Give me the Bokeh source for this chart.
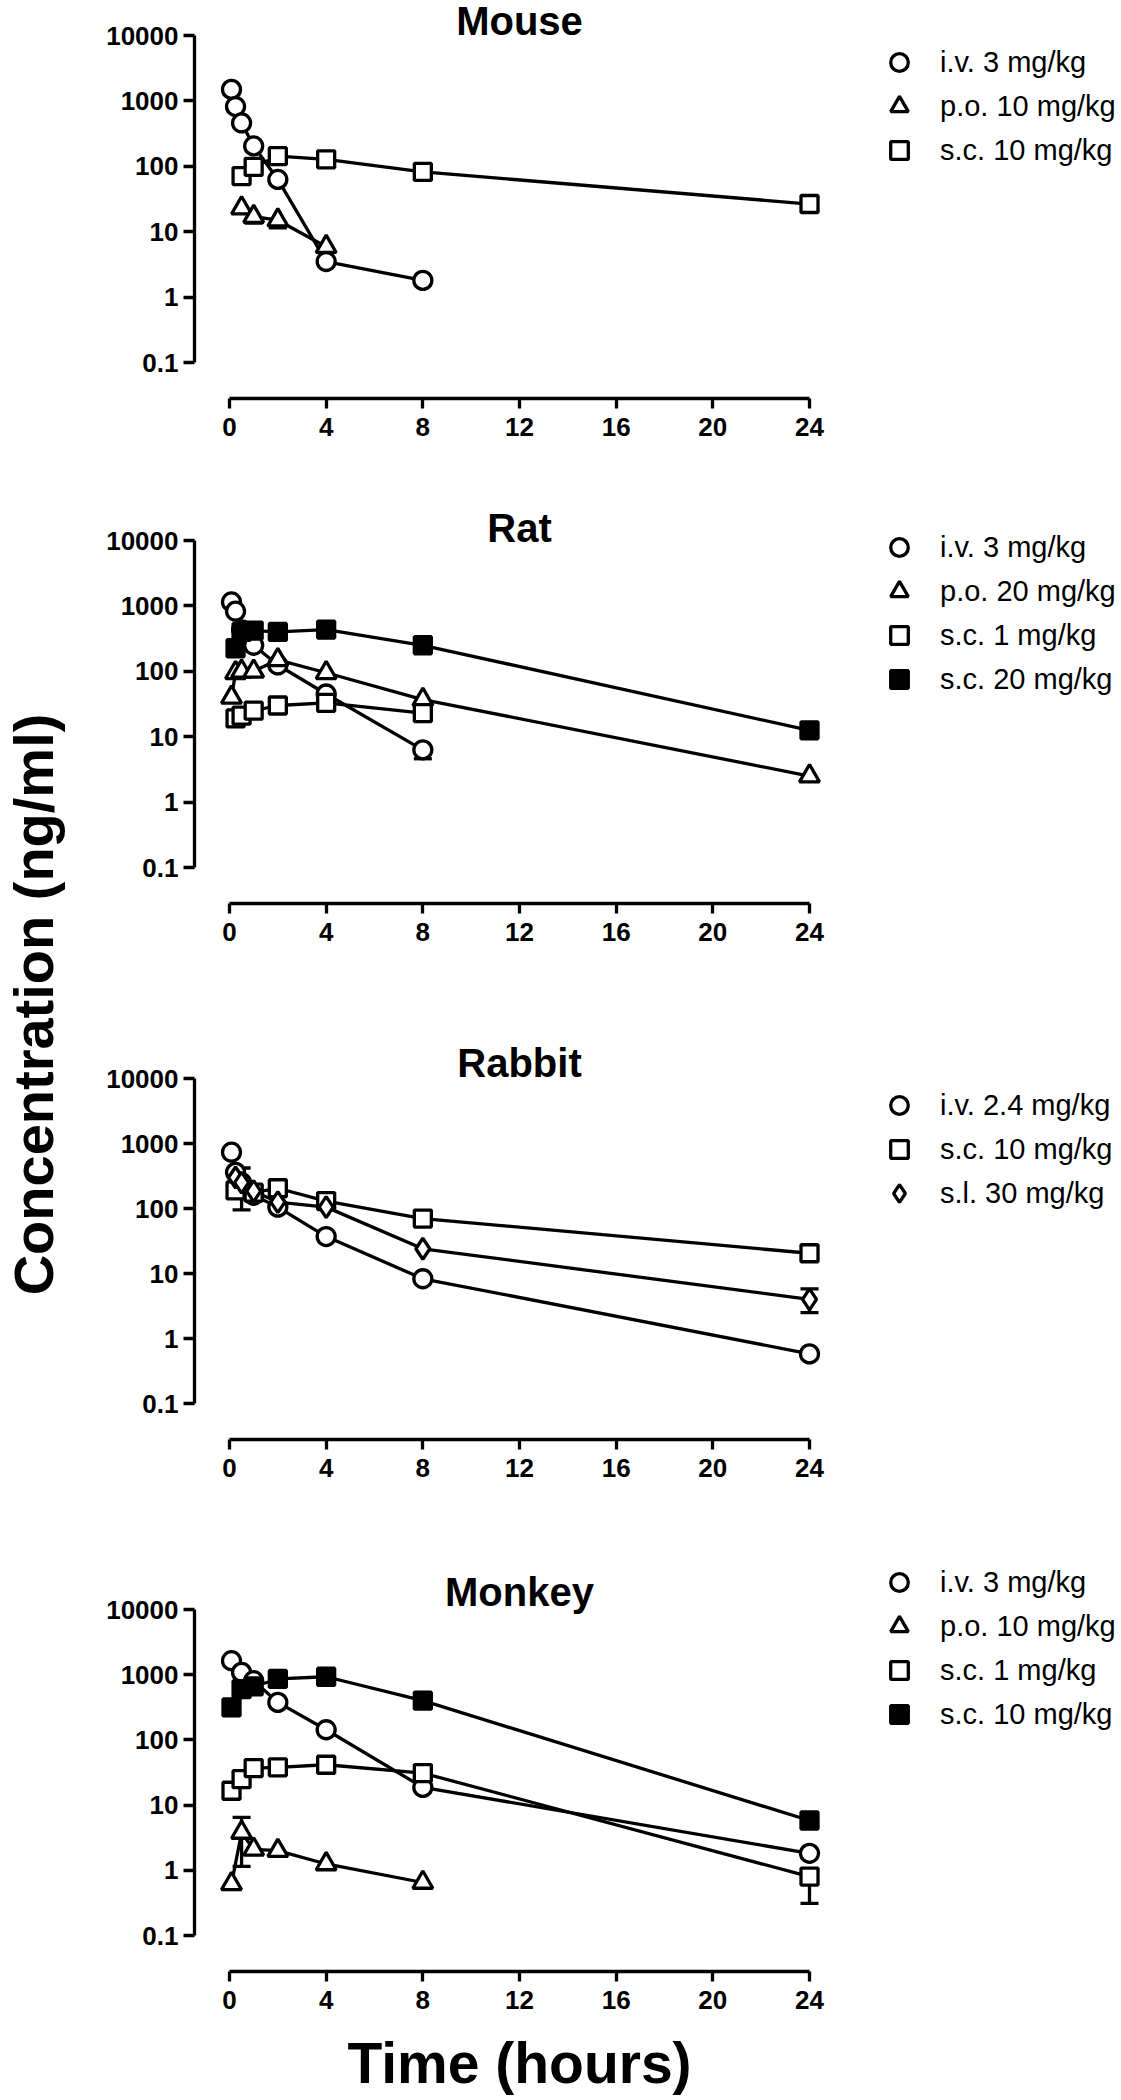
import math
from bokeh.plotting import figure
from bokeh.layouts import column, row
from bokeh.models import (Range1d, FixedTicker, BasicTickFormatter, Label, Legend,
                          LegendItem, Whisker, TeeHead, ColumnDataSource)
from bokeh.embed import file_html
from bokeh.resources import INLINE

# ---------------- DATA ----------------
x_ticks = [0, 4, 8, 12, 16, 20, 24]
y_ticks = [0.1, 1, 10, 100, 1000, 10000]
y_label = "Concentration (ng/ml)"
x_label = "Time (hours)"

# Mouse
mouse_iv_time = [0.083, 0.25, 0.5, 1, 2, 4, 8]
mouse_iv_conc = [1500, 820, 460, 205, 63, 3.5, 1.8]
mouse_po_time = [0.5, 1, 2, 4]
mouse_po_conc = [23, 17, 15, 5.9]
mouse_sc_time = [0.5, 1, 2, 4, 8, 24]
mouse_sc_conc = [71, 98, 143, 128, 82, 26.5]
mouse_labels = ["i.v. 3 mg/kg", "p.o. 10 mg/kg", "s.c. 10 mg/kg"]
mouse_err_time = [1, 2]
mouse_err_low = [13.5, 11.5]
mouse_err_high = [17, 15]
mouse_err_kind = ["low", "low"]

# Rat
rat_iv_time = [0.083, 0.25, 0.5, 1, 2, 4, 8]
rat_iv_conc = [1150, 830, 430, 250, 125, 45, 6.3]
rat_po_time = [0.083, 0.25, 0.5, 1, 2, 4, 8, 24]
rat_po_conc = [40, 95, 100, 100, 150, 95, 37, 2.5]
rat_sc1_time = [0.25, 0.5, 1, 2, 4, 8]
rat_sc1_conc = [19, 21, 25, 30, 33, 23]
rat_sc20_time = [0.25, 0.5, 1, 2, 4, 8, 24]
rat_sc20_conc = [225, 400, 420, 400, 435, 250, 12.5]
rat_labels = ["i.v. 3 mg/kg", "p.o. 20 mg/kg", "s.c. 1 mg/kg", "s.c. 20 mg/kg"]
rat_err_time = [8, 24]
rat_err_low = [4.6, 2.2]
rat_err_high = [6.3, 2.5]
rat_err_kind = ["low", "low"]

# Rabbit
rabbit_iv_time = [0.083, 0.25, 0.5, 1, 2, 4, 8, 24]
rabbit_iv_conc = [735, 360, 250, 160, 105, 37, 8.3, 0.58]
rabbit_sc_time = [0.25, 1, 2, 4, 8, 24]
rabbit_sc_conc = [190, 175, 205, 130, 70, 20.5]
rabbit_sl_time = [0.25, 0.5, 1, 2, 4, 8, 24]
rabbit_sl_conc = [300, 250, 185, 125, 105, 24, 4.0]
rabbit_labels = ["i.v. 2.4 mg/kg", "s.c. 10 mg/kg", "s.l. 30 mg/kg"]
rabbit_err_time = [0.5, 24]
rabbit_err_low = [95, 2.5]
rabbit_err_high = [420, 5.8]
rabbit_err_kind = ["both", "both"]

# Monkey
monkey_iv_time = [0.083, 0.5, 1, 2, 4, 8, 24]
monkey_iv_conc = [1640, 1085, 810, 376, 143, 18.7, 1.82]
monkey_po_time = [0.083, 0.5, 1, 2, 4, 8]
monkey_po_conc = [0.62, 3.8, 2.1, 2.0, 1.25, 0.65]
monkey_sc1_time = [0.083, 0.5, 1, 2, 4, 8, 24]
monkey_sc1_conc = [16.6, 25, 37, 38, 41.6, 31, 0.8]
monkey_sc10_time = [0.083, 0.5, 1, 2, 4, 8, 24]
monkey_sc10_conc = [315, 600, 660, 860, 930, 400, 5.8]
monkey_labels = ["i.v. 3 mg/kg", "p.o. 10 mg/kg", "s.c. 1 mg/kg", "s.c. 10 mg/kg"]
monkey_err_time = [0.5, 0.083, 8, 24]
monkey_err_low = [1.15, 0.52, 0.54, 0.31]
monkey_err_high = [6.5, 0.62, 0.65, 0.8]
monkey_err_kind = ["both", "low", "low", "low"]

# ---------------- STYLE / LAYOUT ----------------
FONT = "Liberation Sans"
LW = 3.3
STYLES = {
    "iv": dict(marker="circle", size=18, fill_color="white"),
    "po": dict(marker="triangle", size=20, fill_color="white"),
    "sc_open": dict(marker="square", size=17, fill_color="white"),
    "sc_fill": dict(marker="square", size=17, fill_color="black"),
    "sl": dict(marker="diamond", size=21, fill_color="white"),
}
LABEL_W = 80
FIG_W = 1121 - LABEL_W
AXIS_X = 194          # page x of y-axis line
X0_PX, X24_PX = 229, 809
MBL = AXIS_X - LABEL_W
PX_PER_H = (X24_PX - X0_PX) / 24.0
FRAME_W = FIG_W - MBL
X_START = -(X0_PX - AXIS_X) / PX_PER_H
X_END = X_START + FRAME_W / PX_PER_H
XLAB_H = 70

# geometry per panel: fig_top, fig_h, tick_1e4, tick_0.1, frame_bottom, title_baseline, legend_first_row
GEOM = {
    "Mouse": (0, 480, 35, 362, 398, 20, 70),
    "Rat": (480, 530, 540, 867, 903, 527, 559),
    "Rabbit": (1010, 530, 1078, 1403, 1439, 1062, 1113),
    "Monkey": (1540, 2100 - XLAB_H - 1540, 1609, 1935, 1971, 1591, 1594),
}
XLABEL_Y_FROM_BOTTOM = 38


def make_panel(name, series, err):
    fig_top, fig_h, t4, t01, fb, title_base, leg_first = GEOM[name]
    dec = (t01 - t4) / 5.0
    lo = -1 - (fb - t01) / dec
    hi = 4 + (t4 - fig_top) / dec
    p = figure(width=FIG_W, height=fig_h, y_axis_type="log", title=None,
               x_range=Range1d(X_START, X_END), y_range=Range1d(10 ** lo, 10 ** hi),
               output_backend="svg", toolbar_location=None,
               min_border_left=MBL, min_border_right=0, min_border_top=0,
               min_border_bottom=fig_top + fig_h - fb)
    p.outline_line_color = None
    p.xgrid.visible = False
    p.ygrid.visible = False
    p.background_fill_color = "white"
    p.border_fill_color = "white"

    xa, ya = p.xaxis[0], p.yaxis[0]
    xa.bounds = (0, 24)
    ya.bounds = (0.1, 10000)
    xa.ticker = FixedTicker(ticks=x_ticks)
    ya.ticker = FixedTicker(ticks=y_ticks)
    ya.formatter = BasicTickFormatter(use_scientific=False)
    for ax in (xa, ya):
        ax.axis_line_width = LW
        ax.axis_line_color = "black"
        ax.major_tick_line_width = LW
        ax.major_tick_line_color = "black"
        ax.major_tick_in = 0
        ax.minor_tick_line_color = None
        ax.major_label_text_font = FONT
        ax.major_label_text_font_style = "bold"
        ax.major_label_text_font_size = "26px"
        ax.major_label_text_color = "black"
    ya.major_tick_out = 11
    xa.major_tick_out = 10
    ya.major_label_standoff = 5
    xa.major_label_standoff = 9

    # error bars (under lines/markers)
    et, elo, ehi, ekind = err
    for kind in ("both", "low"):
        idx = [i for i, k in enumerate(ekind) if k == kind]
        if not idx:
            continue
        src = ColumnDataSource(dict(base=[et[i] for i in idx],
                                    lower=[elo[i] for i in idx],
                                    upper=[ehi[i] for i in idx]))
        w = Whisker(source=src, base="base", lower="lower", upper="upper",
                    dimension="height", line_width=LW, line_color="black",
                    lower_head=TeeHead(size=18, line_width=LW, line_color="black"),
                    upper_head=TeeHead(size=18, line_width=LW, line_color="black") if kind == "both" else None,
                    level="underlay")
        p.add_layout(w)

    for (t, c, style, label) in series:
        p.line(t, c, line_color="black", line_width=LW)
    items = []
    for (t, c, style, label) in series:
        st = STYLES[style]
        r = p.scatter(t, c, marker=st["marker"], size=st["size"],
                      fill_color=st["fill_color"], line_color="black", line_width=LW)
        items.append(LegendItem(label=label, renderers=[r]))

    n = len(items)
    leg_h = 40 * n + 4
    leg_top = leg_first - 22
    vy = fb - (leg_top + leg_h)
    vx = (899 - 22) - AXIS_X
    legend = Legend(items=items, location=(vx, vy), orientation="vertical",
                    glyph_width=44, glyph_height=44, spacing=-4, padding=0, margin=0,
                    label_standoff=19, label_text_font=FONT, label_text_font_size="29px",
                    label_text_color="black", border_line_color=None,
                    background_fill_alpha=0)
    p.add_layout(legend)

    p.add_layout(Label(x=12, y=fb - title_base, x_units="data", y_units="screen",
                       text=name, text_align="center", text_baseline="alphabetic",
                       text_font=FONT, text_font_style="bold", text_font_size="40px",
                       text_color="black"))
    return p


p_mouse = make_panel("Mouse", [
    (mouse_iv_time, mouse_iv_conc, "iv", mouse_labels[0]),
    (mouse_po_time, mouse_po_conc, "po", mouse_labels[1]),
    (mouse_sc_time, mouse_sc_conc, "sc_open", mouse_labels[2]),
], (mouse_err_time, mouse_err_low, mouse_err_high, mouse_err_kind))

p_rat = make_panel("Rat", [
    (rat_iv_time, rat_iv_conc, "iv", rat_labels[0]),
    (rat_po_time, rat_po_conc, "po", rat_labels[1]),
    (rat_sc1_time, rat_sc1_conc, "sc_open", rat_labels[2]),
    (rat_sc20_time, rat_sc20_conc, "sc_fill", rat_labels[3]),
], (rat_err_time, rat_err_low, rat_err_high, rat_err_kind))

p_rabbit = make_panel("Rabbit", [
    (rabbit_iv_time, rabbit_iv_conc, "iv", rabbit_labels[0]),
    (rabbit_sc_time, rabbit_sc_conc, "sc_open", rabbit_labels[1]),
    (rabbit_sl_time, rabbit_sl_conc, "sl", rabbit_labels[2]),
], (rabbit_err_time, rabbit_err_low, rabbit_err_high, rabbit_err_kind))

p_monkey = make_panel("Monkey", [
    (monkey_iv_time, monkey_iv_conc, "iv", monkey_labels[0]),
    (monkey_po_time, monkey_po_conc, "po", monkey_labels[1]),
    (monkey_sc1_time, monkey_sc1_conc, "sc_open", monkey_labels[2]),
    (monkey_sc10_time, monkey_sc10_conc, "sc_fill", monkey_labels[3]),
], (monkey_err_time, monkey_err_low, monkey_err_high, monkey_err_kind))


def text_strip(w, h, xr):
    f = figure(width=w, height=h, title=None, x_range=xr, y_range=Range1d(0, h),
               output_backend="svg", toolbar_location=None,
               x_axis_location=None, y_axis_location=None, min_border=0)
    f.xgrid.visible = False
    f.ygrid.visible = False
    f.outline_line_color = None
    return f


# y-axis label column (left)
lab = text_strip(LABEL_W, 2100, Range1d(0, LABEL_W))
lab.add_layout(Label(x=33, y=2100 - 1004, text=y_label, angle=math.pi / 2,
                     text_align="center", text_baseline="alphabetic",
                     text_font=FONT, text_font_style="bold", text_font_size="56px",
                     text_color="black"))

# x-axis label strip (bottom); its frame is aligned with the panels' frames
xlab = text_strip(FIG_W, XLAB_H, Range1d(X_START, X_END))
xlab.add_layout(Label(x=12, y=XLABEL_Y_FROM_BOTTOM, x_units="data", y_units="data",
                      text=x_label, text_align="center", text_baseline="alphabetic",
                      text_font=FONT, text_font_style="bold", text_font_size="57px",
                      text_color="black"))

layout = row(lab, column(p_mouse, p_rat, p_rabbit, p_monkey, xlab))
open("out.html", "w").write(file_html(layout, INLINE))
